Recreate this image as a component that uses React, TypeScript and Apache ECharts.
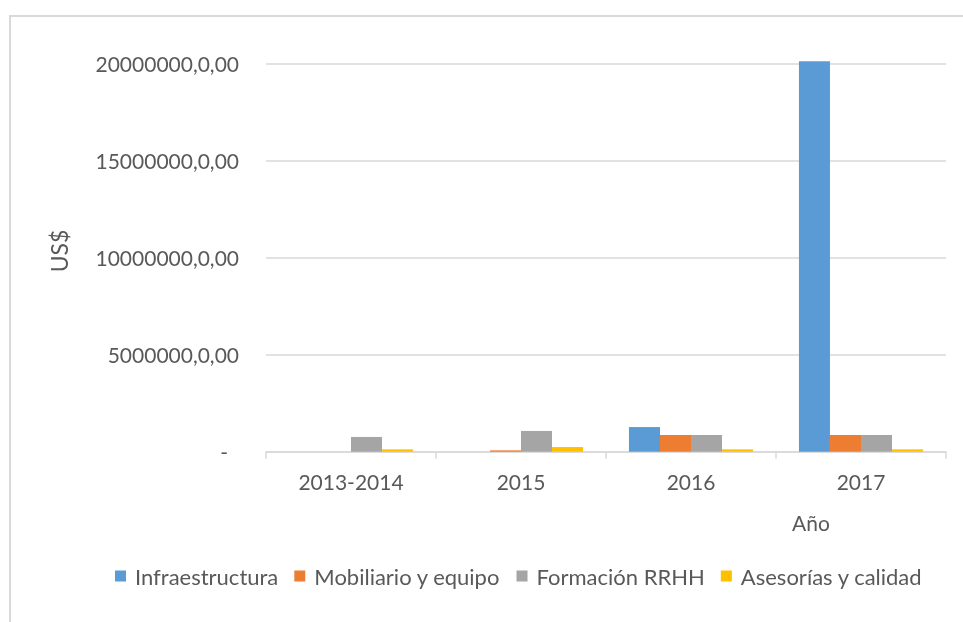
import React, { useEffect, useRef } from "react";
import * as echarts from "echarts";

const categories = ["2013-2014", "2015", "2016", "2017"];
const seriesNames = ["Infraestructura", "Mobiliario y equipo", "Formación RRHH", "Asesorías y calidad"];
const infraestructura = [0, 0, 1270000, 20120000];
const mobiliario = [0, 70000, 860000, 860000];
const formacion = [760000, 1070000, 860000, 860000];
const asesorias = [120000, 240000, 120000, 120000];
const colors = ["#5b9bd5", "#ed7d31", "#a5a5a5", "#ffc000"];
const yTicks = [0, 5000000, 10000000, 15000000, 20000000];

const FONT = "Lato, 'Open Sans', sans-serif";
const TXT = "#595959";

export default function App() {
  const ref = useRef<HTMLDivElement>(null);
  useEffect(() => {
    if (!ref.current) return;
    const chart = echarts.init(ref.current, null, { renderer: "svg" });
    const data = [infraestructura, mobiliario, formacion, asesorias];
    chart.setOption({
      animation: false,
      textStyle: { fontFamily: FONT },
      grid: { left: 266, right: 17, top: 63.7, bottom: 170.3, containLabel: false },
      legend: {
        left: 110,
        top: 560,
        itemWidth: 11,
        itemHeight: 11,
        itemGap: 16,
        icon: "rect",
        textStyle: { color: TXT, fontSize: 22, fontFamily: FONT, padding: [0, 0, 0, 4] },
        data: seriesNames,
      },
      xAxis: {
        type: "category",
        data: categories,
        axisLine: { lineStyle: { color: "#d9d9d9", width: 1.5 } },
        axisTick: { show: true, alignWithLabel: false, length: 7, lineStyle: { color: "#d9d9d9", width: 1.5 } },
        axisLabel: { color: TXT, fontSize: 21, fontFamily: FONT, margin: 19 },
      },
      yAxis: {
        type: "value",
        min: yTicks[0],
        max: yTicks[yTicks.length - 1],
        interval: yTicks[1] - yTicks[0],
        axisLine: { show: false },
        axisTick: { show: false },
        splitLine: { lineStyle: { color: "#d9d9d9", width: 1.5 } },
        axisLabel: {
          color: TXT,
          fontSize: 21,
          fontFamily: FONT,
          margin: 27,
          formatter: (v: number) => (v === 0 ? "{z|-}" : `${v},0,00`),
          rich: { z: { color: TXT, fontSize: 21, fontFamily: FONT, padding: [0, 11, 0, 0] } },
        },
      },
      graphic: [
        {
          type: "rect",
          silent: true,
          shape: { x: 10, y: 16, width: 1000, height: 700 },
          style: { fill: "none", stroke: "#d9d9d9", lineWidth: 2 },
        },
        {
          type: "text",
          x: 59,
          y: 251,
          rotation: Math.PI / 2,
          style: { text: "US$", fill: TXT, fontSize: 23, fontFamily: FONT, align: "center", verticalAlign: "middle" },
        },
        {
          type: "text",
          x: 811,
          y: 522,
          style: { text: "Año", fill: TXT, fontSize: 21, fontFamily: FONT, align: "center", verticalAlign: "middle" },
        },
      ],
      series: seriesNames.map((name, i) => ({
        name,
        type: "bar",
        data: data[i],
        clip: false,
        barGap: "0%",
        barCategoryGap: "27%",
        itemStyle: { color: colors[i] },
      })),
    });
    return () => chart.dispose();
  }, []);
  return <div ref={ref} style={{ position: "fixed", left: 0, top: 0, width: 963, height: 622 }} />;
}
